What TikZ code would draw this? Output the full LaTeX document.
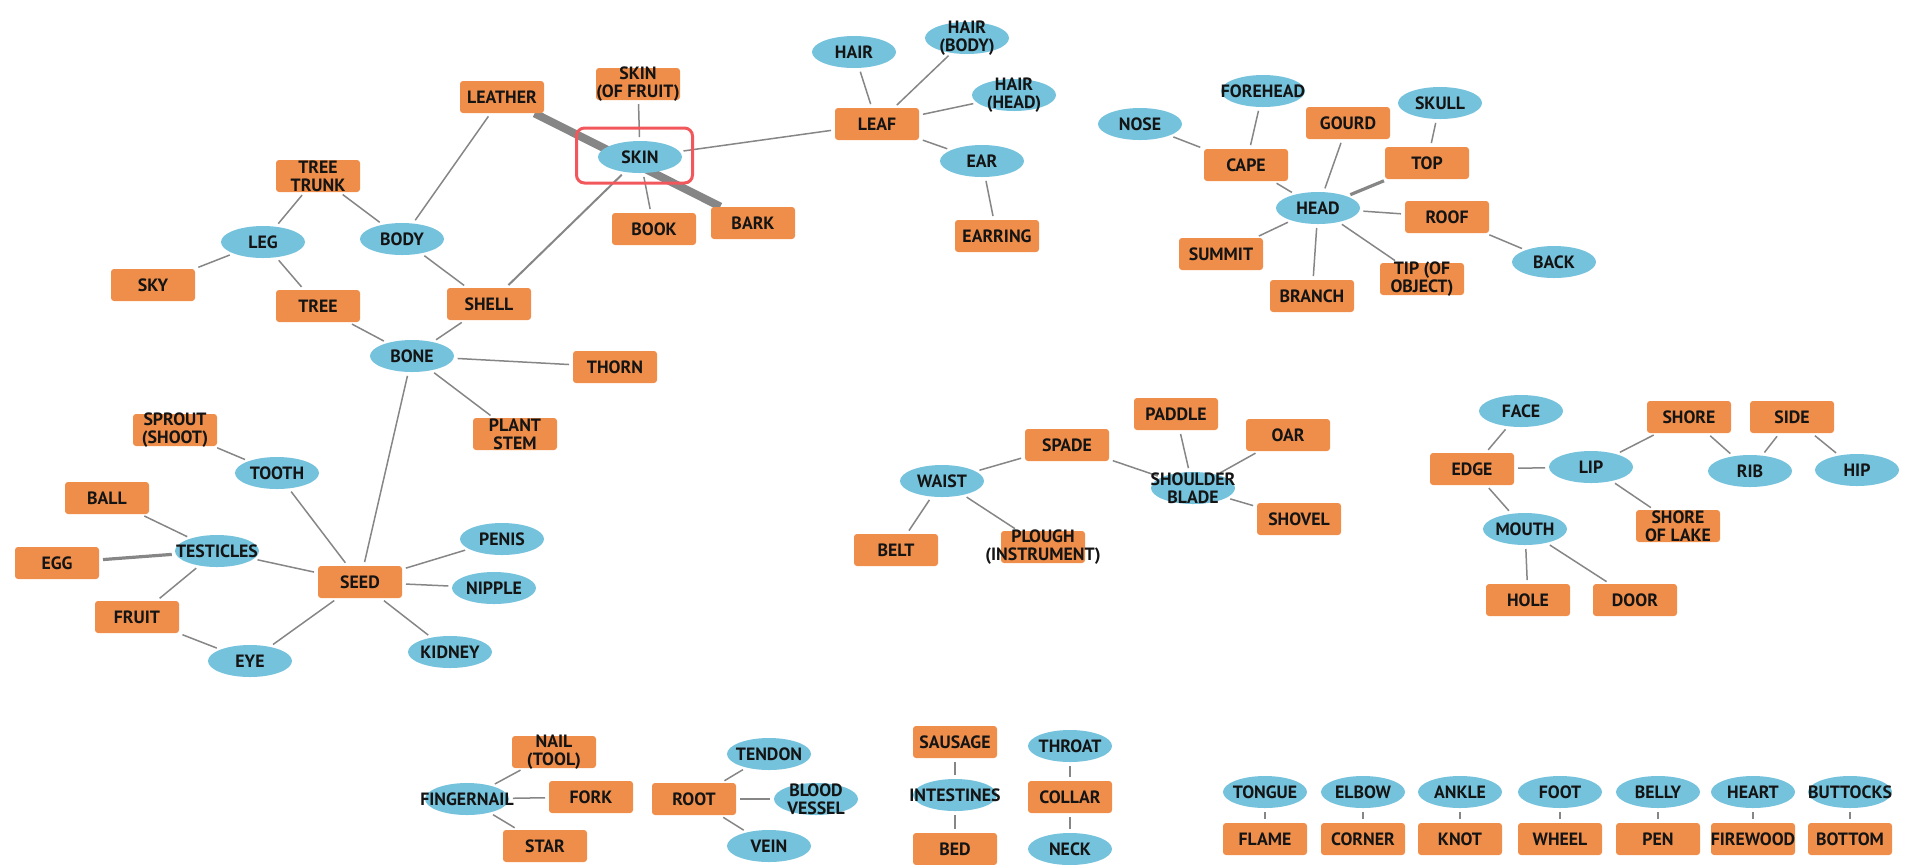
\documentclass[tikz,border=0pt]{standalone}
\usepackage{fontspec}
\setmainfont{PT Sans}
\usetikzlibrary{shapes.geometric,backgrounds}
\definecolor{orangeC}{HTML}{EF8E4B}
\definecolor{blueC}{HTML}{75C2DC}
\definecolor{lineC}{HTML}{868686}
\definecolor{redC}{HTML}{F2575C}
\newcommand\lblfont{\fontsize{8.9}{9.1}\selectfont\bfseries}
\tikzset{
  bx/.style={rectangle, rounded corners=1.5pt, fill=orangeC, minimum width=42pt, minimum height=16pt, inner sep=0pt},
  el/.style={ellipse, fill=blueC, minimum width=42pt, minimum height=16pt, inner sep=0pt},
  lb/.style={font=\lblfont, align=center, inner sep=0pt, text=black!92},
  ln/.style={draw=lineC, line width=0.75pt, shorten >=1.8pt, shorten <=1.8pt},
  thk/.style={ln, line width=1.6pt},
  vthk/.style={ln, line width=4pt, shorten >=0pt, shorten <=0pt},
  hilite/.style={draw=redC, line width=1.5pt, rounded corners=4pt, minimum width=58pt, minimum height=27.5pt, inner sep=0pt},
}
\newcommand\B[4][]{\node[bx,#1, label={[lb]center:{#4}}] (#2) at (#3) {};}
\newcommand\E[4][]{\node[el,#1, label={[lb]center:{#4}}] (#2) at (#3) {};}
\begin{document}
\begin{tikzpicture}[x=0.5pt,y=-0.5pt]
\useasboundingbox (0,0) rectangle (1905,864);
% ---- top-left cluster
\B{leather}{502,97}{LEATHER}
\B{skinfruit}{638,84}{SKIN\\(OF FRUIT)}
\E{skin}{640,157}{SKIN}
\B{leaf}{877,124}{LEAF}
\E{hair}{854,52}{HAIR}
\E{hairbody}{967,38}{HAIR\\(BODY)}
\E{hairhead}{1014,95}{HAIR\\(HEAD)}
\E{ear}{982,161}{EAR}
\B{earring}{997,236}{EARRING}
\B{book}{654,229}{BOOK}
\B{bark}{753,223}{BARK}
\B{treetrunk}{318,176}{TREE\\TRUNK}
\E{leg}{263,242}{LEG}
\E{body}{402,239}{BODY}
\B{sky}{153,285}{SKY}
\B{tree}{318,306}{TREE}
\B{shell}{489,304}{SHELL}
\E{bone}{412,356}{BONE}
\B{thorn}{615,367}{THORN}
\B{plantstem}{515,434}{PLANT\\STEM}
\B{sprout}{175,430}{SPROUT\\(SHOOT)}
\E{tooth}{277,473}{TOOTH}
\B{ball}{107,498}{BALL}
\E{testicles}{217,551}{TESTICLES}
\B{egg}{57,563}{EGG}
\B{seed}{360,582}{SEED}
\E{penis}{502,539}{PENIS}
\E{nipple}{494,588}{NIPPLE}
\E{kidney}{450,652}{KIDNEY}
\B{fruit}{137,617}{FRUIT}
\E{eye}{250,661}{EYE}
\node[hilite] (hl) at (634.5,155.5) {};
% ---- head cluster
\E{nose}{1140,124}{NOSE}
\E{forehead}{1263,91}{FOREHEAD}
\B{cape}{1246,165}{CAPE}
\B{gourd}{1348,123}{GOURD}
\E{skull}{1440,103}{SKULL}
\B{top}{1427,163}{TOP}
\E{head}{1318,208}{HEAD}
\B{roof}{1447,217}{ROOF}
\E{back}{1554,262}{BACK}
\B{summit}{1221,254}{SUMMIT}
\B{branch}{1312,296}{BRANCH}
\B{tip}{1422,279}{TIP (OF\\OBJECT)}
% ---- middle cluster
\B{spade}{1067,445}{SPADE}
\B{paddle}{1176,414}{PADDLE}
\B{oar}{1288,435}{OAR}
\E{waist}{942,481}{WAIST}
\E{shoulder}{1193,488}{SHOULDER\\BLADE}
\B{shovel}{1299,519}{SHOVEL}
\B{belt}{896,550}{BELT}
\B{plough}{1043,547}{PLOUGH\\(INSTRUMENT)}
% ---- right cluster
\E{face}{1521,411}{FACE}
\B{shore}{1689,417}{SHORE}
\B{side}{1792,417}{SIDE}
\B{edge}{1472,469}{EDGE}
\E{lip}{1591,467}{LIP}
\E{rib}{1750,471}{RIB}
\E{hip}{1857,470}{HIP}
\E{mouth}{1525,529}{MOUTH}
\B{shorelake}{1678,526}{SHORE\\OF LAKE}
\B{hole}{1528,600}{HOLE}
\B{door}{1635,600}{DOOR}
% ---- bottom clusters
\B{nail}{554,752}{NAIL\\(TOOL)}
\E{fingernail}{467,799}{FINGERNAIL}
\B{fork}{591,797}{FORK}
\B{star}{545,846}{STAR}
\B{root}{694,799}{ROOT}
\E{tendon}{769,754}{TENDON}
\E{blood}{816,799}{BLOOD\\VESSEL}
\E{vein}{769,846}{VEIN}
\B{sausage}{955,742}{SAUSAGE}
\E{intestines}{955,795}{INTESTINES}
\B{bed}{955,849}{BED}
\E{throat}{1070,746}{THROAT}
\B{collar}{1070,797}{COLLAR}
\E{neck}{1070,849}{NECK}
% ---- bottom row pairs
\E{tongue}{1265,792}{TONGUE}   \B{flame}{1265,839}{FLAME}
\E{elbow}{1363,792}{ELBOW}     \B{corner}{1363,839}{CORNER}
\E{ankle}{1460,792}{ANKLE}     \B{knot}{1460,839}{KNOT}
\E{foot}{1560,792}{FOOT}       \B{wheel}{1560,839}{WHEEL}
\E{belly}{1658,792}{BELLY}     \B{pen}{1658,839}{PEN}
\E{heart}{1753,792}{HEART}     \B{firewood}{1753,839}{FIREWOOD}
\E{buttocks}{1850,792}{BUTTOCKS} \B{bottom}{1850,839}{BOTTOM}
% ---- connectors
\begin{pgfonlayer}{background}
\draw[vthk] (leather) -- (bark);
\draw[ln] (skinfruit) -- (skin);
\draw[ln] (skin) -- (leaf);
\draw[ln] (skin) -- (book);
\draw[ln, line width=1pt] (skin) -- (shell);
\draw[ln] (leather) -- (body);
\draw[ln] (treetrunk) -- (leg);
\draw[ln] (treetrunk) -- (body);
\draw[ln] (leg) -- (sky);
\draw[ln] (leg) -- (tree);
\draw[ln] (body) -- (shell);
\draw[ln] (tree) -- (bone);
\draw[ln] (shell) -- (bone);
\draw[ln] (bone) -- (thorn);
\draw[ln] (bone) -- (plantstem);
\draw[ln] (bone) -- (seed);
\draw[ln] (leaf) -- (hair);
\draw[ln] (leaf) -- (hairbody);
\draw[ln] (leaf) -- (hairhead);
\draw[ln] (leaf) -- (ear);
\draw[ln] (ear) -- (earring);
\draw[ln] (sprout) -- (tooth);
\draw[ln] (tooth) -- (seed);
\draw[ln] (ball) -- (testicles);
\draw[thk] (egg) -- (testicles);
\draw[ln] (testicles) -- (seed);
\draw[ln] (testicles) -- (fruit);
\draw[ln] (fruit) -- (eye);
\draw[ln] (eye) -- (seed);
\draw[ln] (seed) -- (penis);
\draw[ln] (seed) -- (nipple);
\draw[ln] (seed) -- (kidney);
\draw[ln] (nose) -- (cape);
\draw[ln] (forehead) -- (cape);
\draw[ln] (cape) -- (head);
\draw[ln] (gourd) -- (head);
\draw[ln] (skull) -- (top);
\draw[thk] (top) -- (head);
\draw[ln] (head) -- (roof);
\draw[ln] (roof) -- (back);
\draw[ln] (head) -- (summit);
\draw[ln] (head) -- (branch);
\draw[ln] (head) -- (tip);
\draw[ln] (spade) -- (waist);
\draw[ln] (spade) -- (shoulder);
\draw[ln] (paddle) -- (shoulder);
\draw[ln] (oar) -- (shoulder);
\draw[ln] (shoulder) -- (shovel);
\draw[ln] (waist) -- (belt);
\draw[ln] (waist) -- (plough);
\draw[ln] (face) -- (edge);
\draw[ln] (edge) -- (lip);
\draw[ln] (edge) -- (mouth);
\draw[ln] (lip) -- (shore);
\draw[ln] (lip) -- (shorelake);
\draw[ln] (shore) -- (rib);
\draw[ln] (side) -- (rib);
\draw[ln] (side) -- (hip);
\draw[ln] (mouth) -- (hole);
\draw[ln] (mouth) -- (door);
\draw[ln] (fingernail) -- (nail);
\draw[ln] (fingernail) -- (fork);
\draw[ln] (fingernail) -- (star);
\draw[ln] (root) -- (tendon);
\draw[ln] (root) -- (blood);
\draw[ln] (root) -- (vein);
\draw[ln] (sausage) -- (intestines);
\draw[ln] (intestines) -- (bed);
\draw[ln] (throat) -- (collar);
\draw[ln] (collar) -- (neck);
\draw[ln] (tongue) -- (flame);
\draw[ln] (elbow) -- (corner);
\draw[ln] (ankle) -- (knot);
\draw[ln] (foot) -- (wheel);
\draw[ln] (belly) -- (pen);
\draw[ln] (heart) -- (firewood);
\draw[ln] (buttocks) -- (bottom);
\end{pgfonlayer}
\end{tikzpicture}
\end{document}
